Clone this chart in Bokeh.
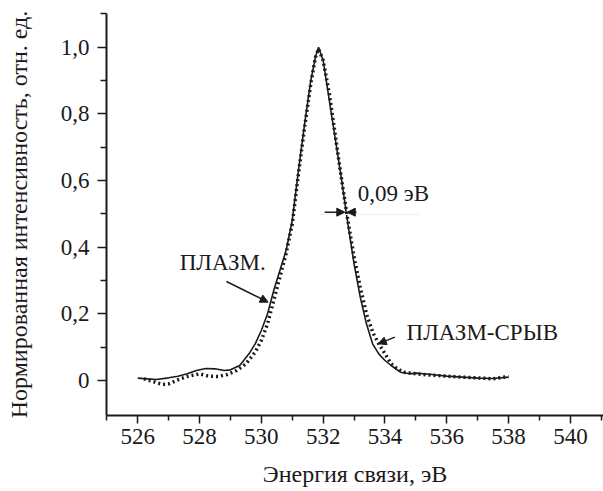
from bokeh.plotting import figure
from bokeh.models import FixedTicker, Range1d, Arrow, NormalHead
from bokeh.core.properties import value
from bokeh.embed import file_html
from bokeh.resources import INLINE

# ---- data ----
plasma_x = [526.0, 526.3, 526.6, 527.0, 527.3, 527.6, 527.9, 528.2, 528.5, 528.8, 529.0,
            529.3, 529.6, 529.8, 530.0, 530.2, 530.4, 530.6, 530.8, 531.0, 531.2, 531.4,
            531.6, 531.75, 531.85, 532.0, 532.2, 532.4, 532.6, 532.8, 533.0, 533.2, 533.4,
            533.6, 533.8, 534.0, 534.2, 534.5, 534.8, 535.0, 535.5, 536.0, 536.5, 537.0,
            537.5, 538.0]
plasma_y = [0.007, 0.005, 0.003, 0.008, 0.013, 0.02, 0.03, 0.036, 0.035, 0.03, 0.032,
            0.045, 0.08, 0.11, 0.15, 0.20, 0.27, 0.33, 0.39, 0.48, 0.63, 0.77,
            0.90, 0.97, 1.0, 0.96, 0.84, 0.72, 0.60, 0.47, 0.35, 0.25, 0.17,
            0.11, 0.08, 0.06, 0.045, 0.025, 0.02, 0.022, 0.018, 0.013, 0.01, 0.007,
            0.006, 0.01]

brk_x = [526.2, 526.5, 526.8, 527.0, 527.3, 527.6, 528.0, 528.3, 528.6, 528.9, 529.2,
         529.5, 529.8, 530.0, 530.2, 530.4, 530.6, 530.8, 531.0, 531.2, 531.4, 531.6,
         531.75, 531.85, 532.0, 532.2, 532.4, 532.6, 532.8, 533.0, 533.2, 533.4, 533.6,
         533.8, 534.0, 534.2, 534.4, 534.6, 535.0, 535.5, 536.0, 536.5, 537.0, 537.5, 538.0]
brk_y = [0.005, -0.003, -0.012, -0.01, 0.002, 0.012, 0.02, 0.013, 0.012, 0.018, 0.03,
         0.05, 0.085, 0.12, 0.17, 0.24, 0.31, 0.38, 0.47, 0.62, 0.76, 0.89,
         0.97, 0.995, 0.96, 0.86, 0.73, 0.60, 0.48, 0.37, 0.28, 0.20, 0.145,
         0.11, 0.08, 0.05, 0.035, 0.025, 0.02, 0.016, 0.013, 0.01, 0.008, 0.005, 0.012]

x_major = [526, 528, 530, 532, 534, 536, 538, 540]
x_minor = [525, 527, 529, 531, 533, 535, 537, 539, 541]
y_major = [0.0, 0.2, 0.4, 0.6, 0.8, 1.0]
y_major_labels = ["0", "0,2", "0,4", "0,6", "0,8", "1,0"]
y_minor = [0.1, 0.3, 0.5, 0.7, 0.9, 1.1]

label_texts = ["ПЛАЗМ.", "ПЛАЗМ-СРЫВ", "0,09 эВ"]
label_x = [527.36, 534.70, 533.12]
label_y = [0.355, 0.144, 0.56]

arrow_x0 = [528.87, 534.32, 532.05, 533.08]
arrow_y0 = [0.297, 0.130, 0.505, 0.505]
arrow_x1 = [530.22, 533.78, 532.70, 532.78]
arrow_y1 = [0.235, 0.110, 0.505, 0.505]

FONT = "Liberation Serif"
INK = "#1a1a1a"

p = figure(width=603, height=491, output_backend="svg", toolbar_location=None,
           x_range=Range1d(524.99, 541.07), y_range=Range1d(-0.105, 1.101),
           min_border_left=106, min_border_right=0, min_border_top=13, min_border_bottom=76)
p.outline_line_color = None
p.grid.visible = False
p.background_fill_color = "white"
p.border_fill_color = "white"

p.line(plasma_x, plasma_y, line_color=INK, line_width=1.6)
p.line(brk_x, brk_y, line_color=INK, line_width=3.5, line_dash="2 3")

# faint guide line near the FWHM marker
p.line([531.9, 535.1], [0.498, 0.498], line_color="#efefef", line_width=1)

for x0, y0, x1, y1 in zip(arrow_x0, arrow_y0, arrow_x1, arrow_y1):
    p.add_layout(Arrow(end=NormalHead(size=8, fill_color=INK, line_color=INK),
                       x_start=x0, y_start=y0, x_end=x1, y_end=y1,
                       line_color=INK, line_width=1.5))

p.text(x=label_x, y=label_y, text=label_texts, text_font=value(FONT),
       text_font_size="23px", text_align="left", text_baseline="middle", text_color=INK)

xa = p.xaxis[0]
xa.ticker = FixedTicker(ticks=x_major, minor_ticks=x_minor)
xa.axis_label = "Энергия связи, эВ"
ya = p.yaxis[0]
ya.ticker = FixedTicker(ticks=y_major, minor_ticks=y_minor)
ya.major_label_overrides = {v: s for v, s in zip(y_major, y_major_labels)}
ya.axis_label = "Нормированная интенсивность, отн. ед."

for ax in (xa, ya):
    ax.axis_line_color = INK
    ax.axis_line_width = 2
    ax.major_tick_line_color = INK
    ax.minor_tick_line_color = INK
    ax.major_tick_line_width = 1.5
    ax.minor_tick_line_width = 1.5
    ax.major_tick_in = 0
    ax.minor_tick_in = 0
    ax.major_label_text_font = FONT
    ax.major_label_text_font_size = "23px"
    ax.major_label_text_color = INK
    ax.axis_label_text_font = FONT
    ax.axis_label_text_font_size = "24px"
    ax.axis_label_text_font_style = "normal"
    ax.axis_label_text_color = INK

xa.major_tick_out = 8
xa.minor_tick_out = 5
xa.major_label_standoff = 5
xa.axis_label_standoff = 14
ya.major_tick_out = 9
ya.minor_tick_out = 6
ya.major_label_standoff = 8
ya.axis_label_standoff = 26

open("out.html", "w").write(file_html(p, INLINE))
